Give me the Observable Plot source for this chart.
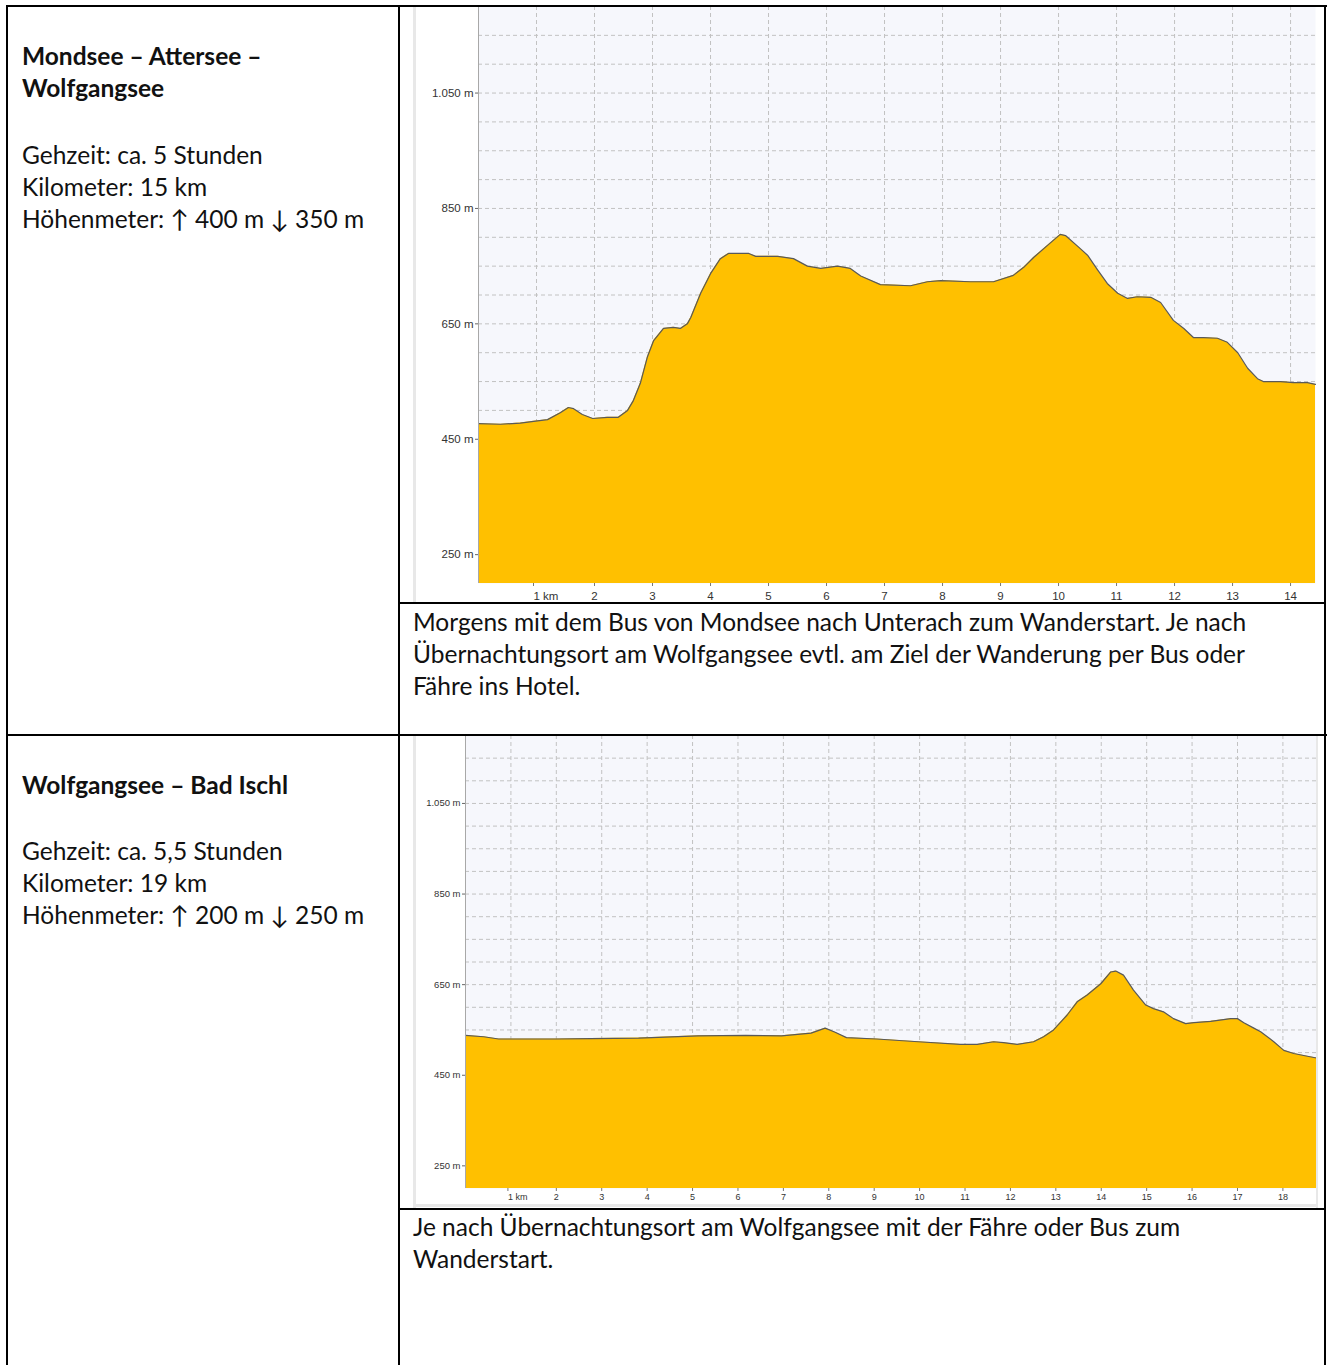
<!DOCTYPE html>
<html><head><meta charset="utf-8">
<script src="https://cdn.jsdelivr.net/npm/d3@7"></script>
<script src="https://cdn.jsdelivr.net/npm/@observablehq/plot@0.6"></script>
<style>
html,body{margin:0;padding:0;background:#fff;}
body{width:1330px;height:1365px;position:relative;overflow:hidden;font-family:Lato,"Open Sans",sans-serif;color:#111;}
.ln{position:absolute;background:#000;z-index:5}
.txt{position:absolute;font-size:24.5px;line-height:32px;white-space:nowrap;z-index:4}
.chart{position:absolute;z-index:1}
.strip{position:absolute;background:#e8e8e8;z-index:2}
b{font-weight:700}
</style></head><body>

<div class="ln" style="left:6px;top:5px;width:1321px;height:2px"></div>
<div class="ln" style="left:6px;top:5px;width:2px;height:1360px"></div>
<div class="ln" style="left:398px;top:5px;width:2px;height:1360px"></div>
<div class="ln" style="left:1324px;top:5px;width:2px;height:1360px"></div>
<div class="ln" style="left:6px;top:734px;width:1321px;height:2px"></div>
<div class="ln" style="left:398px;top:602px;width:928px;height:2px"></div>
<div class="ln" style="left:398px;top:1208px;width:928px;height:2px"></div>

<div class="strip" style="left:413px;top:7px;width:3px;height:595px"></div>
<div class="strip" style="left:413px;top:736px;width:3px;height:472px"></div>
<div class="strip" style="left:1316px;top:736px;width:2px;height:472px"></div>
<div class="strip" style="left:413px;top:1204px;width:905px;height:3px"></div>

<div class="txt" style="left:22px;top:40px"><b>Mondsee – Attersee –<br>Wolfgangsee</b></div>
<div class="txt" style="left:22px;top:139px">Gehzeit: ca. 5 Stunden<br>Kilometer: 15 km<br>Höhenmeter: ↑ 400 m ↓ 350 m</div>
<div class="txt" style="left:413px;top:606px">Morgens mit dem Bus von Mondsee nach Unterach zum Wanderstart. Je nach<br>Übernachtungsort am Wolfgangsee evtl. am Ziel der Wanderung per Bus oder<br>Fähre ins Hotel.</div>

<div class="txt" style="left:22px;top:769px"><b>Wolfgangsee – Bad Ischl</b></div>
<div class="txt" style="left:22px;top:835px">Gehzeit: ca. 5,5 Stunden<br>Kilometer: 19 km<br>Höhenmeter: ↑ 200 m ↓ 250 m</div>
<div class="txt" style="left:413px;top:1211px">Je nach Übernachtungsort am Wolfgangsee mit der Fähre oder Bus zum<br>Wanderstart.</div>

<div id="c1" class="chart" style="left:400px;top:0px"></div>
<div id="c2" class="chart" style="left:400px;top:729px"></div>

<script>
// Route 1: Mondsee – Attersee – Wolfgangsee
const km1 = [0,0.38,0.72,0.95,1.19,1.41,1.55,1.64,1.79,1.97,2.22,2.41,2.57,2.67,2.79,2.91,3.02,3.19,3.36,3.48,3.6,3.66,3.83,4.0,4.17,4.31,4.66,4.78,5.16,5.43,5.67,5.9,6.19,6.41,6.59,6.93,7.45,7.74,7.97,8.48,8.88,9.22,9.4,9.57,9.81,10.03,10.12,10.38,10.5,10.67,10.84,11.02,11.19,11.36,11.59,11.76,11.98,12.16,12.33,12.5,12.74,12.91,13.09,13.26,13.43,13.53,13.83,14.05,14.29,14.43];
const ele1 = [477,476,478,481,484,496,505,503,493,486,488,488,500,517,547,592,621,642,644,642,650,661,703,737,763,772,772,767,767,763,750,746,750,746,733,718,716,723,725,723,723,734,748,765,786,805,803,780,769,744,720,703,694,697,696,687,656,642,626,626,625,618,600,573,555,550,550,548,548,545];

// Route 2: Wolfgangsee – Bad Ischl
const km2 = [0,0.4,0.73,1.32,1.98,2.76,3.81,5.12,6.17,6.96,7.61,7.92,8.14,8.39,9.05,9.97,10.9,11.27,11.63,11.85,12.15,12.51,12.73,12.95,13.25,13.47,13.69,13.99,14.21,14.32,14.49,14.71,14.98,15.15,15.37,15.59,15.86,16.04,16.41,16.85,17.0,17.14,17.36,17.51,17.8,18.02,18.24,18.54,18.74];
const ele2 = [538,535,530,530,530,531,532,537,538,537,543,554,545,533,530,524,518,518,524,522,518,524,535,550,583,612,627,652,678,680,671,638,605,597,590,575,564,566,569,575,575,566,554,546,524,505,498,492,488];

const yTicks = [250,450,650,850,1050];
const yGrid = [250,300,350,400,450,500,550,600,650,700,750,800,850,900,950,1000,1050,1100,1150,1200];
const xTicks1 = [1,2,3,4,5,6,7,8,9,10,11,12,13,14];
const xTicks2 = [1,2,3,4,5,6,7,8,9,10,11,12,13,14,15,16,17,18];

const de = d3.formatLocale({decimal:",", thousands:".", grouping:[3], currency:["","€"]});
const fmtM = d => de.format(",")(d) + " m";

function profile(kms, eles, o) {
  const data = kms.map((k, i) => ({km: k, ele: eles[i]}));
  return Plot.plot({
    width: o.width, height: o.height,
    marginTop: o.mt, marginRight: o.mr, marginBottom: o.mb, marginLeft: o.ml,
    style: {background: "transparent", fontFamily: "'Liberation Sans', Arial, sans-serif", color: "#333", overflow: "visible"},
    x: {domain: [0, o.xMax], label: null},
    y: {domain: [200, 1200], label: null},
    marks: [
      Plot.frame({fill: "#f6f7fc", stroke: null}),
      Plot.gridX(o.xTicks, {stroke: "#c2c2c2", strokeOpacity: 1, strokeDasharray: "4,3"}),
      Plot.gridY(yGrid, {stroke: "#c2c2c2", strokeOpacity: 1, strokeDasharray: "4,3"}),
      Plot.areaY(data, {x: "km", y: "ele", fill: "#ffc000", clip: true}),
      Plot.lineY(data, {x: "km", y: "ele", stroke: "#595959", strokeWidth: 1.2}),
      Plot.ruleX([0], {stroke: "#a8a8a8"}),
      Plot.axisY(yTicks, {tickSize: 3, tickPadding: 2, tickFormat: fmtM, fontSize: o.fsY, stroke: "#666", fill: "#333"}),
      Plot.axisX(o.xTicks.filter(d => d !== 1), {tickSize: 3, tickPadding: o.xPad, fontSize: o.fsX, stroke: "#777", fill: "#333"}),
      Plot.axisX([1], {tickSize: 3, tickPadding: o.xPad, fontSize: o.fsX, stroke: "#777", fill: "#333", tickFormat: () => "1 km", textAnchor: "start", dx: -3})
    ]
  });
}

document.getElementById("c1").append(profile(km1, ele1, {
  width: 926, height: 620, mt: 6, mr: 11, mb: 37, ml: 78, xMax: 14.43, xTicks: xTicks1, fsY: 11.5, fsX: 11.5, xPad: 5
}));
document.getElementById("c2").append(profile(km2, ele2, {
  width: 926, height: 500, mt: 6, mr: 10, mb: 41, ml: 65, xMax: 18.74, xTicks: xTicks2, fsY: 9.5, fsX: 9, xPad: 2
}));
</script>
</body></html>
